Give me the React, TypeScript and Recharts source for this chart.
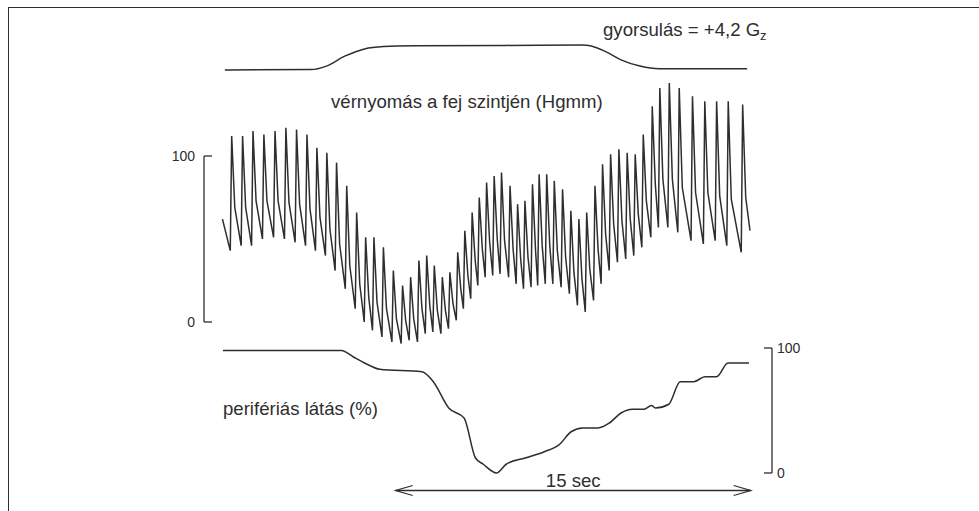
import React from 'react';
import { LineChart, Line, XAxis, YAxis, ReferenceLine } from 'recharts';

const W = 979;
const H = 511;
const INK = '#2e2e2e';
const FONT = '"Liberation Sans", Arial, Helvetica, sans-serif';

// gyorsulás (G), idő másodpercben
const accelTime = [0.88, 4.52, 5.17, 5.97, 6.78, 7.59, 8.88, 12.77, 16.0, 16.32, 16.97, 17.62, 18.42, 19.23, 22.95];
const accelG = [1.0, 1.05, 1.5, 2.8, 3.7, 4.0, 4.1, 4.15, 4.2, 4.1, 3.35, 2.3, 1.5, 1.15, 1.15];

// vérnyomás: szívütésenként a csúcs ideje, a talp, a csúcs és a dikrót bevágás (Hgmm)
const beatTime = [
  1.17, 1.63, 2.07, 2.53, 3.0, 3.46, 3.91, 4.35, 4.77, 5.19,
  5.6, 6.03, 6.45, 6.83, 7.18, 7.58, 8.0, 8.39, 8.73, 9.08,
  9.41, 9.73, 10.07, 10.39, 10.72, 11.02, 11.33, 11.63, 11.94, 12.26,
  12.57, 12.93, 13.25, 13.56, 13.88, 14.16, 14.48, 14.8, 15.15, 15.5,
  15.84, 16.17, 16.52, 16.84, 17.18, 17.53, 17.88, 18.22, 18.56, 18.94,
  19.26, 19.66, 20.08, 20.64, 21.16, 21.66, 22.15, 22.76,
];
const beatFoot = [
  43, 46, 46, 50, 51, 50, 48, 46, 43, 40,
  31, 20, 8, 0, -5, -9, -12, -13, -11, -12,
  -7, -6, -7, -4, 1, 8, 14, 22, 27, 28,
  29, 27, 23, 20, 21, 22, 23, 23, 21, 17,
  10, 6, 13, 23, 31, 36, 38, 40, 45, 51,
  57, 57, 54, 49, 47, 49, 46, 42,
];
const beatPeak = [
  112, 112, 115, 113, 115, 117, 116, 113, 105, 102,
  96, 82, 66, 51, 51, 45, 31, 22, 27, 37,
  40, 34, 27, 30, 42, 55, 66, 75, 84, 88,
  90, 82, 71, 73, 83, 89, 89, 85, 80, 67,
  62, 66, 82, 95, 101, 104, 102, 101, 113, 130,
  141, 144, 141, 136, 133, 133, 133, 131,
];
const beatNotch = [
  69, 69, 73, 73, 73, 72, 71, 68, 63, 56,
  47, 34, 23, 15, 12, 8, 2, 1, 2, 8,
  10, 7, 7, 11, 20, 28, 37, 44, 48, 50,
  49, 44, 38, 39, 43, 46, 46, 43, 39, 30,
  26, 32, 44, 53, 59, 61, 62, 65, 73, 83,
  86, 86, 81, 78, 78, 76, 74, 75,
];
const bpStart = { t: 0.78, bp: 62 };
const bpEnd = { t: 23.07, bp: 55 };

// perifériás látás (%)
const visionTime = [
  0.8, 5.81, 6.3, 6.79, 7.43, 9.21, 9.69, 10.34, 10.99, 11.47, 11.8, 12.36,
  12.77, 13.57, 14.38, 15.03, 15.51, 16.0, 16.65, 17.13, 17.62, 18.1, 18.59,
  18.91, 19.07, 19.64, 20.12, 20.69, 21.17, 21.66, 22.14, 23.03,
];
const visionPct = [
  98, 98, 93, 88, 83, 81, 73, 52, 44, 12, 7, 0,
  7, 12, 17, 23, 33, 36, 36, 40, 48, 51, 51,
  54, 52, 55, 73, 73, 77, 77, 88, 88,
];

const arrowFrom = 8.1;
const arrowSeconds = 15;

const accelData = accelTime.map((t, i) => ({ t, g: accelG[i] }));
const visionData = visionTime.map((t, i) => ({ t, v: visionPct[i] }));
const bpData: { t: number; bp: number }[] = [bpStart];
beatTime.forEach((t, i) => {
  bpData.push({ t: t - 0.06, bp: beatFoot[i] });
  bpData.push({ t, bp: beatPeak[i] });
  bpData.push({ t: t + 0.13, bp: beatNotch[i] });
});
bpData.push(bpEnd);

const LeftTick = (props: any) => {
  const { x, y, payload } = props;
  return (
    <g>
      <line x1={x} y1={y} x2={x + 8} y2={y} stroke={INK} strokeWidth={1.3} />
      <text x={x - 9} y={y + 5} textAnchor="end" fontSize={14} fill={INK} fontFamily={FONT}>
        {payload.value}
      </text>
    </g>
  );
};

const RightTick = (props: any) => {
  const { x, y, payload } = props;
  return (
    <g>
      <line x1={x - 8} y1={y} x2={x} y2={y} stroke={INK} strokeWidth={1.3} />
      <text x={x + 5} y={y + 5} textAnchor="start" fontSize={14} fill={INK} fontFamily={FONT}>
        {payload.value}
      </text>
    </g>
  );
};

const ScaleArrow = (props: any) => {
  const { x1, y1, x2, y2 } = props;
  const head = 17;
  const half = 5;
  return (
    <g>
      <line x1={x1} y1={y1} x2={x2} y2={y2} stroke={INK} strokeWidth={1.3} />
      <polyline points={`${x1 + head},${y1 - half} ${x1},${y1} ${x1 + head},${y1 + half}`} fill="none" stroke={INK} strokeWidth={1.3} />
      <polyline points={`${x2 - head},${y2 - half} ${x2},${y2} ${x2 - head},${y2 + half}`} fill="none" stroke={INK} strokeWidth={1.3} />
      <text x={(x1 + x2) / 2} y={y1 - 4} textAnchor="middle" fontSize={18.6} fill={INK} fontFamily={FONT}>
        {arrowSeconds} sec
      </text>
    </g>
  );
};

const layer: React.CSSProperties = { position: 'absolute', left: 0, top: 0 };

export default function App() {
  return (
    <div style={{ position: 'absolute', left: 0, top: 0, width: W, height: H, background: '#fff', overflow: 'hidden' }}>
      <div style={{ position: 'absolute', left: 8, top: 7, width: W, height: H, borderTop: `1px solid ${INK}`, borderLeft: `1px solid ${INK}` }} />

      {/* gyorsulás */}
      <div style={layer}>
        <LineChart width={W} height={H} data={accelData} margin={{ top: 45, right: 207, bottom: 441, left: 204 }}>
          <XAxis type="number" dataKey="t" domain={[0, 24]} hide />
          <YAxis domain={[1, 4.2]} hide />
          <Line type="monotone" dataKey="g" stroke={INK} strokeWidth={1.5} dot={false} isAnimationActive={false} />
        </LineChart>
      </div>

      {/* vérnyomás */}
      <div style={layer}>
        <LineChart width={W} height={H} data={bpData} margin={{ top: 73, right: 207, bottom: 155.8, left: 164 }}>
          <XAxis type="number" dataKey="t" domain={[0, 24]} hide />
          <YAxis
            domain={[-20, 150]}
            ticks={[0, 100]}
            width={40}
            axisLine={false}
            tickLine={false}
            tickSize={0}
            tickMargin={0}
            tick={LeftTick}
          />
          <ReferenceLine segment={[{ x: 0, y: 0 }, { x: 0, y: 100 }]} stroke={INK} strokeWidth={1.3} />
          <Line type="linear" dataKey="bp" stroke={INK} strokeWidth={1.5} dot={false} isAnimationActive={false} />
        </LineChart>
      </div>

      {/* perifériás látás */}
      <div style={layer}>
        <LineChart width={W} height={H} data={visionData} margin={{ top: 348, right: 167, bottom: 38, left: 204 }}>
          <XAxis type="number" dataKey="t" domain={[0, 24]} hide />
          <YAxis
            orientation="right"
            domain={[0, 100]}
            ticks={[0, 100]}
            width={40}
            axisLine={{ stroke: INK, strokeWidth: 1.3 }}
            tickLine={false}
            tickSize={0}
            tickMargin={0}
            tick={RightTick}
          />
          <ReferenceLine
            segment={[{ x: arrowFrom, y: -14 }, { x: arrowFrom + arrowSeconds, y: -14 }]}
            ifOverflow="visible"
            shape={ScaleArrow}
          />
          <Line type="monotone" dataKey="v" stroke={INK} strokeWidth={1.5} dot={false} isAnimationActive={false} />
        </LineChart>
      </div>

      <svg width={W} height={H} style={{ ...layer, pointerEvents: 'none' }}>
        <text x={603} y={36} fontSize={18.6} fill={INK} fontFamily={FONT}>
          gyorsulás = +4,2 G<tspan fontSize={13} dy={4}>z</tspan>
        </text>
        <text x={331} y={108} fontSize={18.6} fill={INK} fontFamily={FONT}>
          vérnyomás a fej szintjén (Hgmm)
        </text>
        <text x={223} y={415} fontSize={18.6} fill={INK} fontFamily={FONT}>
          perifériás látás (%)
        </text>
      </svg>
    </div>
  );
}
